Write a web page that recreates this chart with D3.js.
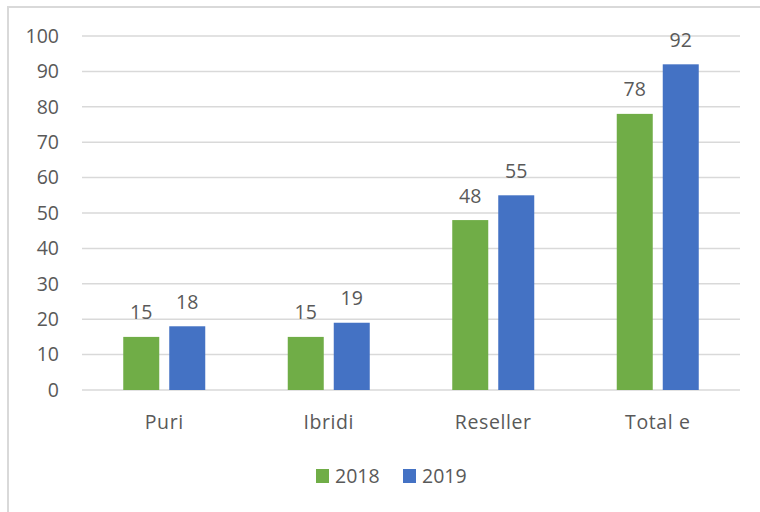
<!DOCTYPE html>
<html>
<head>
<meta charset="utf-8">
<script src="https://cdn.jsdelivr.net/npm/d3@7"></script>
<style>
  body { margin: 0; background: #fff; }
  text { font-family: "Open Sans", "Liberation Sans", sans-serif; fill: #595959; }
</style>
</head>
<body>
<div id="chart"></div>
<script>
// data
var categories = ["Puri", "Ibridi", "Reseller", "Total e"];
var years = ["2018", "2019"];
var values2018 = [15, 15, 48, 78];
var values2019 = [18, 19, 55, 92];
var yTicks = [0, 10, 20, 30, 40, 50, 60, 70, 80, 90, 100];
var colors = ["#70ad47", "#4472c4"];

var width = 760, height = 512;
var fs = "19.5px";

var svg = d3.select("#chart")
  .append("svg")
  .attr("width", width)
  .attr("height", height);

// outer frame (left and top edges only show in the crop)
svg.append("line").attr("x1", 8).attr("x2", 8).attr("y1", 6).attr("y2", height)
  .attr("stroke", "#d9d9d9").attr("stroke-width", 2);
svg.append("line").attr("x1", 7).attr("x2", width).attr("y1", 7).attr("y2", 7)
  .attr("stroke", "#d9d9d9").attr("stroke-width", 2);

var x = d3.scaleBand()
  .domain(categories)
  .range([82, 740])
  .paddingInner(0)
  .paddingOuter(0);

var y = d3.scaleLinear()
  .domain([0, 100])
  .range([390, 36]);

// gridlines
svg.append("g")
  .selectAll("line")
  .data(yTicks)
  .enter()
  .append("line")
  .attr("x1", 82)
  .attr("x2", 740)
  .attr("y1", d => y(d))
  .attr("y2", d => y(d))
  .attr("stroke", "#d9d9d9")
  .attr("stroke-width", 1.5);

// y labels
svg.append("g")
  .selectAll("text")
  .data(yTicks)
  .enter()
  .append("text")
  .attr("x", 59)
  .attr("y", d => y(d))
  .attr("dy", "0.35em")
  .attr("text-anchor", "end")
  .style("font-size", fs)
  .text(d => d);

var barW = 36, gap = 10;
var series = [values2018, values2019];

series.forEach(function(vals, s) {
  var off = s === 0 ? -gap / 2 - barW : gap / 2;
  var g = svg.append("g");
  g.selectAll("rect")
    .data(vals)
    .enter()
    .append("rect")
    .attr("x", (d, i) => x(categories[i]) + x.bandwidth() / 2 + off)
    .attr("y", d => y(d))
    .attr("width", barW)
    .attr("height", d => y(0) - y(d))
    .attr("fill", colors[s]);

  g.selectAll("text")
    .data(vals)
    .enter()
    .append("text")
    .attr("x", (d, i) => x(categories[i]) + x.bandwidth() / 2 + off + barW / 2)
    .attr("y", d => y(d) - 17.5)
    .attr("text-anchor", "middle")
    .style("font-size", fs)
    .text(d => d);
});

// category labels
svg.append("g")
  .selectAll("text")
  .data(categories)
  .enter()
  .append("text")
  .attr("x", d => x(d) + x.bandwidth() / 2)
  .attr("y", 429)
  .attr("text-anchor", "middle")
  .style("font-size", fs)
  .style("letter-spacing", "0.6px")
  .text(d => d);

// legend
var legend = svg.append("g").attr("transform", "translate(316,476)");
years.forEach(function(yr, i) {
  var lx = i * 87;
  legend.append("rect")
    .attr("x", lx).attr("y", -7)
    .attr("width", 13).attr("height", 14)
    .attr("fill", colors[i]);
  legend.append("text")
    .attr("x", lx + 19).attr("y", 0)
    .attr("dy", "0.35em")
    .style("font-size", fs)
    .text(yr);
});
</script>
</body>
</html>
